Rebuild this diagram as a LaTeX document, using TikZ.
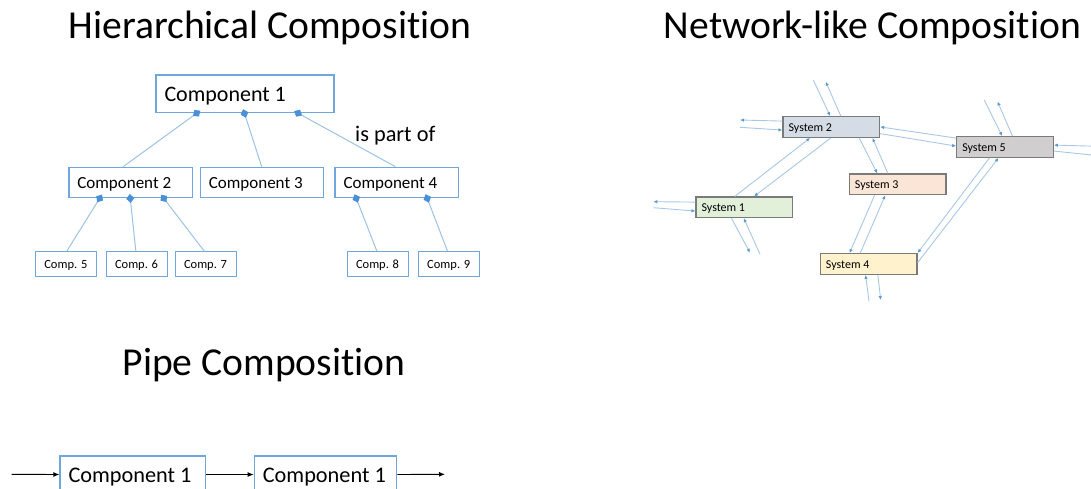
\documentclass[tikz,border=0pt]{standalone}
\usepackage{fontspec}
\setmainfont{Carlito}[Ligatures=NoCommon]
\usetikzlibrary{arrows.meta}
\definecolor{hbord}{HTML}{6FA7DC}
\definecolor{hline}{HTML}{9DC3E6}
\definecolor{hdia}{HTML}{4A90D9}
\definecolor{nbord}{HTML}{7A7A7A}
\definecolor{nline}{HTML}{A9C8E8}
\definecolor{narr}{HTML}{5B9BD5}
\definecolor{fsone}{HTML}{E2F0D9}
\definecolor{fstwo}{HTML}{D6DCE5}
\definecolor{fsthree}{HTML}{FBE5D6}
\definecolor{fsfour}{HTML}{FFF2CC}
\definecolor{fsfive}{HTML}{D0CECE}
\newcommand\lftxt[2]{\makebox[#1][l]{#2}}
\tikzset{
  title/.style={anchor=base, inner sep=0pt, font=\fontsize{39.6}{47}\selectfont},
  hbox/.style={draw=hbord, line width=1.3pt, fill=white, inner ysep=0pt, text depth=0pt},
  bigbox/.style={hbox, inner xsep=8.5pt, minimum height=37.3pt, text height=16.5pt,
    font=\fontsize{22}{26}\selectfont},
  midbox/.style={hbox, inner xsep=8.5pt, minimum height=30pt, text height=12.75pt,
    font=\fontsize{17}{20}\selectfont},
  smallbox/.style={hbox, inner xsep=8.5pt, minimum height=25pt, text height=9.4pt,
    font=\fontsize{12.5}{15}\selectfont},
  sysbox/.style={draw=nbord, line width=1.2pt, inner ysep=0pt,
    text height=9pt, text depth=0pt, inner xsep=5.5pt,
    minimum height=20.6pt, font=\fontsize{12}{14}\selectfont},
  pipebox/.style={hbox, inner xsep=8.5pt, minimum height=37pt, text height=16.7pt,
    font=\fontsize{22.3}{26}\selectfont},
  partline/.style={draw=hline, line width=1pt, shorten <=-4pt,
    {Diamond[length=9pt,width=8pt,color=hdia]}-},
  netline/.style={draw=nline, line width=0.9pt,
    -{Latex[length=4pt,width=3.5pt,color=narr]}},
  pipearrow/.style={draw=black, line width=0.9pt, -{Latex[length=6pt,width=5pt]}},
}
\begin{document}
\begin{tikzpicture}[x=1pt,y=-1pt]
\useasboundingbox (0,0) rectangle (1091,489);
\clip (0,0) rectangle (1091,489);
\fill[white] (0,0) rectangle (1091,489);

% titles
\node[title] (th) at (270,39) {Hierarchical Composition};
\node[title] (tn) at (872.5,39) {Network-like Composition};
\node[title] (tp) at (264,375.7) {Pipe Composition};

% hierarchical
\node[bigbox] (c1) at (245,93.7) {\lftxt{161pt}{Component 1}};
\node[midbox] (c2) at (130.5,182.3) {\lftxt{106.3pt}{Component 2}};
\node[midbox] (c3) at (262,182.3) {\lftxt{106.3pt}{Component 3}};
\node[midbox] (c4) at (396.7,182.3) {\lftxt{106.3pt}{Component 4}};
\node[smallbox] (c5) at (66.3,264.2) {\lftxt{44pt}{Comp. 5}};
\node[smallbox] (c6) at (137,264.2) {\lftxt{44pt}{Comp. 6}};
\node[smallbox] (c7) at (206,264.2) {\lftxt{44pt}{Comp. 7}};
\node[smallbox] (c8) at (378,264.2) {\lftxt{44pt}{Comp. 8}};
\node[smallbox] (c9) at (449.2,264.2) {\lftxt{44pt}{Comp. 9}};
\node[anchor=base west, inner sep=0pt, font=\fontsize{22.3}{26}\selectfont] (partof) at (355,141.7) {is part of};

\draw[partline] ([xshift=41.7pt]c1.south west) -- ([xshift=55pt]c2.north west);
\draw[partline] ([xshift=89pt]c1.south west) -- ([xshift=62pt]c3.north west);
\draw[partline] ([xshift=142.3pt]c1.south west) -- ([xshift=61pt]c4.north west);
\draw[partline] ([xshift=31.7pt]c2.south west) -- ([xshift=31.7pt]c5.north west);
\draw[partline] ([xshift=62pt]c2.south west) -- ([xshift=30pt]c6.north west);
\draw[partline] ([xshift=95.3pt]c2.south west) -- ([xshift=29.3pt]c7.north west);
\draw[partline] ([xshift=21.7pt]c4.south west) -- ([xshift=30pt]c8.north west);
\draw[partline] ([xshift=92.7pt]c4.south west) -- ([xshift=29.4pt]c9.north west);

% network
\node[sysbox, fill=fstwo] (s2) at (831.3,127) {\lftxt{85.5pt}{System 2}};
\node[sysbox, fill=fsfive] (s5) at (1005,147) {\lftxt{85.5pt}{System 5}};
\node[sysbox, fill=fsthree] (s3) at (897.7,184.3) {\lftxt{85.5pt}{System 3}};
\node[sysbox, fill=fsone] (s1) at (744.3,207.3) {\lftxt{85.5pt}{System 1}};
\node[sysbox, fill=fsfour] (s4) at (868.7,264) {\lftxt{85.5pt}{System 4}};

\coordinate (a1) at (813.3,80);
\coordinate (a2) at (825.7,81.7);
\coordinate (a3) at (740,120);
\coordinate (a4) at (740,127.3);
\coordinate (a7) at (1095,146.2);
\coordinate (a8) at (1095,155.3);
\coordinate (a9) at (984.3,100);
\coordinate (a10) at (997.5,101.5);
\coordinate (a13) at (653.3,201.7);
\coordinate (a14) at (653.3,207.7);
\coordinate (a15) at (750,252.7);
\coordinate (a16) at (760,254.3);
\coordinate (a23) at (869,301);
\coordinate (a24) at (880.7,300);

\draw[netline] (a1) -- ([xshift=47.7pt]s2.north west);
\draw[netline] ([xshift=58.4pt]s2.north west) -- (a2);
\draw[netline] ([yshift=-5pt]s2.north west) -- (a3);
\draw[netline] (a4) -- ([yshift=-14pt]s2.north west);
\draw[netline] ([yshift=-2pt]s5.north west) -- ([yshift=-10.8pt]s2.north east);
\draw[netline] ([yshift=-17.5pt]s2.north east) -- ([yshift=-10pt]s5.north west);
\draw[netline] (a7) -- ([yshift=-9pt]s5.north east);
\draw[netline] ([yshift=-15pt]s5.north east) -- (a8);
\draw[netline] (a9) -- ([xshift=46pt]s5.north west);
\draw[netline] ([xshift=56.3pt]s5.north west) -- (a10);
\draw[netline] ([xshift=39.3pt]s1.north west) -- ([xshift=27.7pt]s2.south west);
\draw[netline] ([xshift=48.4pt]s2.south west) -- ([xshift=58.6pt]s1.north west);
\draw[netline] ([yshift=-5.7pt]s1.north west) -- (a13);
\draw[netline] (a14) -- ([yshift=-14.7pt]s1.north west);
\draw[netline] ([xshift=36pt]s1.south west) -- (a15);
\draw[netline] (a16) -- ([xshift=48.3pt]s1.south west);
\draw[netline] ([xshift=76.7pt]s2.south west) -- ([xshift=28.4pt]s3.north west);
\draw[netline] ([xshift=39pt]s3.north west) -- ([xshift=90pt]s2.south west);
\draw[netline] ([xshift=25.7pt]s3.south west) -- ([xshift=29.7pt]s4.north west);
\draw[netline] ([xshift=40.4pt]s4.north west) -- ([xshift=36.4pt]s3.south west);
\draw[netline] ([xshift=33.3pt]s5.south west) -- (s4.north east);
\draw[netline] ([yshift=-9.6pt]s4.north east) -- ([xshift=42.3pt]s5.south west);
\draw[netline] (a23) -- ([xshift=45.7pt]s4.south west);
\draw[netline] ([xshift=58pt]s4.south west) -- (a24);

% pipe
\node[pipebox] (p1) at (132.85,474.5) {\lftxt{128.7pt}{Component 1}};
\node[pipebox] (p2) at (325.5,474.5) {\lftxt{125.4pt}{Component 1}};
\coordinate (b0) at (11.7,474.3);
\coordinate (b3) at (445,474.3);
\draw[pipearrow] (b0) -- (p1.west);
\draw[pipearrow] (p1.east) -- (p2.west);
\draw[pipearrow] (p2.east) -- (b3);
\end{tikzpicture}
\end{document}
